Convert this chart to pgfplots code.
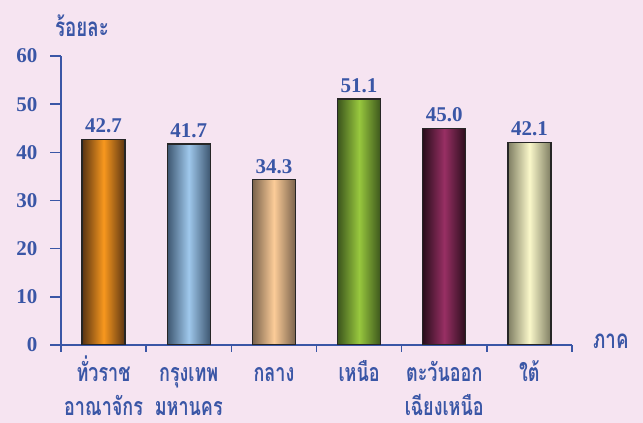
\documentclass[border=0pt]{standalone}
\usepackage{fontspec}
\setmainfont{Liberation Serif}
\newfontfamily\thaifont[Script=Thai,FakeStretch=0.72]{Loma}
\usepackage{pgfplots}
\pgfplotsset{compat=1.18}
\definecolor{bgpink}{HTML}{F6E4F1}
\definecolor{txtblue}{HTML}{3A56A6}
\definecolor{orgC}{HTML}{F8981E}\definecolor{orgE}{HTML}{5A3412}
\definecolor{bluC}{HTML}{9FC8EC}\definecolor{bluE}{HTML}{3D5670}
\definecolor{pchC}{HTML}{FCCC98}\definecolor{pchE}{HTML}{7A634C}
\definecolor{grnC}{HTML}{98C83E}\definecolor{grnE}{HTML}{3C561C}
\definecolor{marC}{HTML}{982F64}\definecolor{marE}{HTML}{2A0E1C}
\definecolor{crmC}{HTML}{FAF8CA}\definecolor{crmE}{HTML}{7E7D62}
\begin{document}
\begin{tikzpicture}[x=1pt,y=1pt]
\useasboundingbox (0,0) rectangle (643,423);
\fill[bgpink] (0,0) rectangle (643,423);
\begin{axis}[
  at={(61pt,78pt)}, anchor=south west,
  scale only axis, width=511pt, height=289pt,
  xmin=-0.5, xmax=5.5, ymin=0, ymax=60,
  axis lines*=left,
  axis line style={txtblue, line width=1.6pt, -},
  ybar, bar width=43pt,
  ytick={0,10,...,60},
  tick align=outside, major tick length=11pt,
  tick style={txtblue, line width=1.6pt},
  /pgf/number format/assume math mode=true,
  yticklabel style={font=\bfseries\fontsize{21}{21}\selectfont, text=txtblue, xshift=-9pt},
  xtick={0,...,5},
  xticklabels={ทั่วราช\\อาณาจักร, กรุงเทพ\\มหานคร, กลาง\\\phantom{ก}, เหนือ\\\phantom{ก}, ตะวันออก\\เฉียงเหนือ, ใต้\\\phantom{ก}},
  xtick style={draw=none},
  xticklabel style={font=\thaifont\bfseries\fontsize{25}{34}\selectfont, text=txtblue,
    align=center, anchor=north, inner sep=0pt, text height=0pt, yshift=-59pt},
  extra x ticks={-0.5,0.5,...,5.5}, extra x tick labels={},
  extra x tick style={major tick length=7pt, xtick style={draw=txtblue, line width=1.6pt}},
  ylabel={ร้อยละ},
  ylabel style={rotate=-90, at={(axis description cs:0.041,1.104)}, anchor=center,
    font=\thaifont\bfseries\fontsize{26}{26}\selectfont, text=txtblue},
  xlabel={ภาค},
  xlabel style={at={(axis description cs:1.076,0.014)}, anchor=center,
    font=\thaifont\bfseries\fontsize{26}{26}\selectfont, text=txtblue},
  nodes near coords,
  nodes near coords style={font=\bfseries\fontsize{21}{21}\selectfont, text=txtblue,
    anchor=south, yshift=2pt,
    /pgf/number format/fixed, /pgf/number format/fixed zerofill,
    /pgf/number format/precision=1},
]
\addplot[bar shift=0pt, draw=black!85, line width=1.4pt, left color=orgE, right color=orgE, middle color=orgC] coordinates {(0,42.7)};
\addplot[bar shift=0pt, draw=black!85, line width=1.4pt, left color=bluE, right color=bluE, middle color=bluC] coordinates {(1,41.7)};
\addplot[bar shift=0pt, draw=black!85, line width=1.4pt, left color=pchE, right color=pchE, middle color=pchC] coordinates {(2,34.3)};
\addplot[bar shift=0pt, draw=black!85, line width=1.4pt, left color=grnE, right color=grnE, middle color=grnC] coordinates {(3,51.1)};
\addplot[bar shift=0pt, draw=black!85, line width=1.4pt, left color=marE, right color=marE, middle color=marC] coordinates {(4,45.0)};
\addplot[bar shift=0pt, draw=black!85, line width=1.4pt, left color=crmE, right color=crmE, middle color=crmC] coordinates {(5,42.1)};
\end{axis}
\end{tikzpicture}
\end{document}
